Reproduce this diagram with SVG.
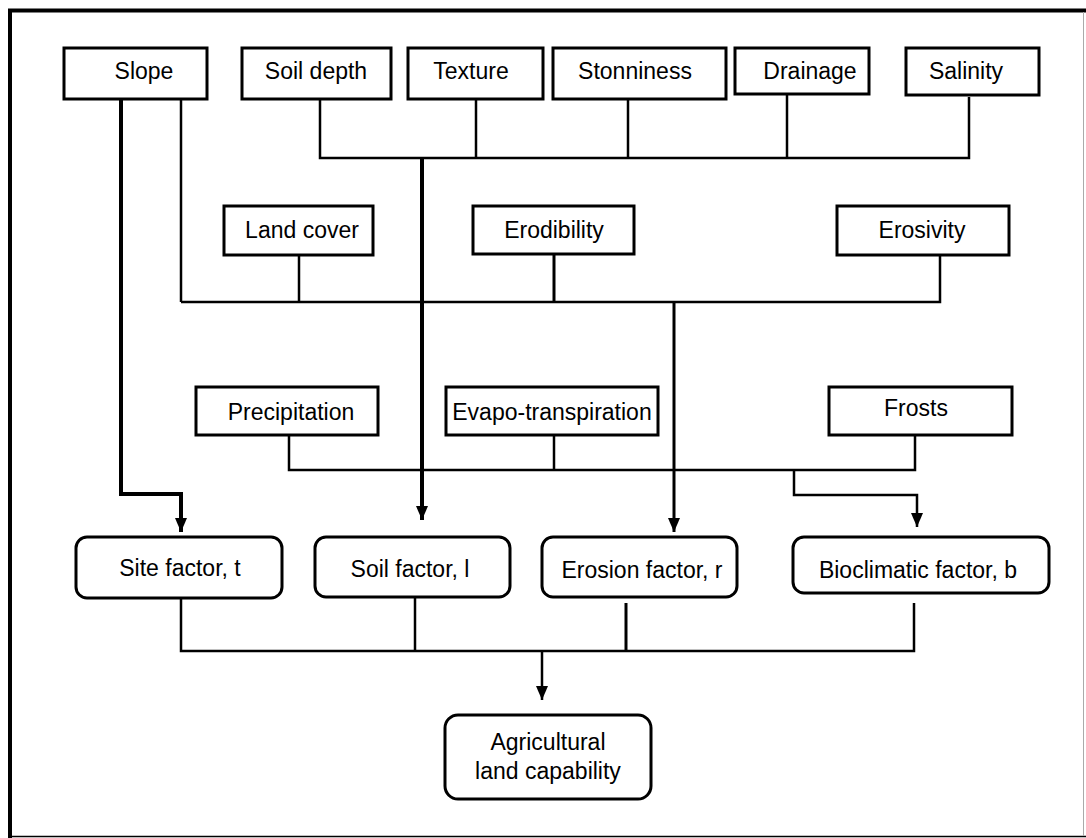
<svg xmlns="http://www.w3.org/2000/svg" width="1086" height="838" viewBox="0 0 1086 838">
<style>
.box{fill:#fff;stroke:#000;stroke-width:3}
.t{font-family:"Liberation Sans",Arial,sans-serif;font-size:23px;fill:#000;text-anchor:middle}
.c{fill:none;stroke:#000;stroke-width:2.5}
.k{stroke-width:4}
.m{stroke-width:3}
</style>
<defs>
<marker id="ah" viewBox="0 0 14 12" refX="14" refY="6" markerWidth="14" markerHeight="12" markerUnits="userSpaceOnUse" orient="auto">
<path d="M0,0 L14,6 L0,12 z" fill="#000"/>
</marker>
</defs>
<rect x="0" y="0" width="1086" height="838" fill="#fff"/>
<g id="frame">
<line x1="8" y1="10.5" x2="1086" y2="10.5" stroke="#000" stroke-width="4"/>
<line x1="10" y1="9" x2="10" y2="838" stroke="#000" stroke-width="4"/>
<line x1="10" y1="836.5" x2="1086" y2="836.5" stroke="#000" stroke-width="1.5"/>
<line x1="1083.5" y1="12" x2="1083.5" y2="836" stroke="#aaa" stroke-width="1"/>
</g>
<g id="connectors">
<path class="c k" d="M121,99 V494 H181 V532" marker-end="url(#ah)"/>
<path class="c" d="M181,99 V302"/>
<path class="c" d="M320,99 V158 H969 V97"/>
<path class="c" d="M476,99 V158"/>
<path class="c" d="M628,99 V158"/>
<path class="c" d="M787,95 V158"/>
<path class="c k" d="M422,158 V520" marker-end="url(#ah)"/>
<path class="c" d="M181,302 H940 V255"/>
<path class="c" d="M299,255 V302"/>
<path class="c m" d="M554,254 V302"/>
<path class="c m" d="M674,302 V532" marker-end="url(#ah)"/>
<path class="c" d="M289,435 V470 H915 V435"/>
<path class="c" d="M554,435 V470"/>
<path class="c" d="M794,470 V495 H917 V527" marker-end="url(#ah)"/>
<path class="c" d="M181,598 V651 H914 V603"/>
<path class="c" d="M415,597 V651"/>
<path class="c m" d="M626,603 V651"/>
<path class="c" d="M542,651 V700" marker-end="url(#ah)"/>
</g>
<g id="slope"><rect class="box" x="64" y="48" width="143" height="51"/><text class="t" x="144" y="79">Slope</text></g>
<g id="soil-depth"><rect class="box" x="242" y="48" width="149" height="51"/><text class="t" x="316" y="79">Soil depth</text></g>
<g id="texture"><rect class="box" x="408" y="48" width="135" height="51"/><text class="t" x="471" y="79">Texture</text></g>
<g id="stonniness"><rect class="box" x="553" y="48" width="173" height="51"/><text class="t" x="635" y="79">Stonniness</text></g>
<g id="drainage"><rect class="box" x="735" y="48" width="134" height="46"/><text class="t" x="810" y="79">Drainage</text></g>
<g id="salinity"><rect class="box" x="906" y="48" width="133" height="47"/><text class="t" x="966" y="79">Salinity</text></g>
<g id="land-cover"><rect class="box" x="224" y="206" width="149" height="49"/><text class="t" x="302" y="238">Land cover</text></g>
<g id="erodibility"><rect class="box" x="473" y="206" width="161" height="48"/><text class="t" x="554" y="238">Erodibility</text></g>
<g id="erosivity"><rect class="box" x="837" y="206" width="172" height="49"/><text class="t" x="922" y="238">Erosivity</text></g>
<g id="precipitation"><rect class="box" x="196" y="387" width="182" height="48"/><text class="t" x="291" y="420">Precipitation</text></g>
<g id="evapo"><rect class="box" x="446" y="387" width="212" height="48"/><text class="t" x="552" y="420">Evapo-transpiration</text></g>
<g id="frosts"><rect class="box" x="829" y="387" width="183" height="48"/><text class="t" x="916" y="416">Frosts</text></g>
<g id="site-factor"><rect class="box" x="76" y="537" width="206" height="61" rx="11"/><text class="t" x="180" y="576">Site factor, t</text></g>
<g id="soil-factor"><rect class="box" x="315" y="537" width="195" height="60" rx="11"/><text class="t" x="410" y="577">Soil factor, l</text></g>
<g id="erosion-factor"><rect class="box" x="542" y="537" width="195" height="60" rx="11"/><text class="t" x="642" y="578">Erosion factor, r</text></g>
<g id="bioclimatic-factor"><rect class="box" x="793" y="537" width="256" height="56" rx="11"/><text class="t" x="918" y="578">Bioclimatic factor, b</text></g>
<g id="agricultural"><rect class="box" x="445" y="715" width="206" height="84" rx="13"/><text class="t" x="548" y="750" font-size="22">Agricultural</text><text class="t" x="548" y="779" font-size="22">land capability</text></g>
</svg>
